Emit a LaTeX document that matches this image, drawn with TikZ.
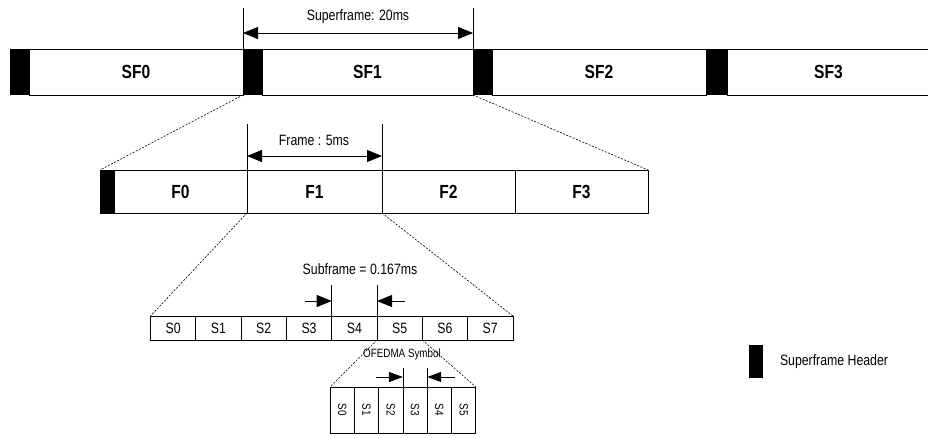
\documentclass[tikz,border=0pt]{standalone}
\usepackage{fontspec}
\setmainfont{Liberation Sans}[FakeStretch=0.82]
\usetikzlibrary{positioning}
\usetikzlibrary{arrows.meta}

\tikzset{
  hdr/.style={fill=black, minimum width=#1},
  sfbox/.style={draw, line width=0.8pt, minimum width=#1, minimum height=46pt,
    font=\bfseries\fontsize{19}{19}\selectfont},
  fbox/.style={draw, line width=0.8pt, minimum width=#1, minimum height=43pt,
    font=\bfseries\fontsize{19}{19}\selectfont},
  sbox/.style={draw, line width=0.8pt, minimum width=45.3pt, minimum height=24pt,
    font=\fontsize{15}{15}\selectfont},
  obox/.style={draw, line width=0.8pt, minimum width=24.3pt, minimum height=46pt,
    font=\fontsize{12}{12}\selectfont},
  lbl/.style={font=\fontsize{15}{15}\selectfont},
  zoomline/.style={line width=0.6pt, dash pattern=on 2pt off 1.5pt},
  tick/.style={line width=0.8pt},
  dim/.style={line width=0.8pt, {Triangle[length=15pt,width=12pt]}-{Triangle[length=15pt,width=12pt]}},
  pin/.style={line width=0.8pt, -{Triangle[length=15pt,width=12pt]}},
  smallpin/.style={line width=0.8pt, -{Triangle[length=14pt,width=10pt]}}
}

\begin{document}
\begin{tikzpicture}[x=1pt, y=-1pt, every node/.style={inner sep=0pt, outer sep=0pt}]
  \useasboundingbox (0,0) rectangle (928,438);

  % superframes
  \node[hdr=19pt, minimum height=46pt, anchor=north west] (h0) at (10,49) {};
  \node[sfbox=214pt, right=0pt of h0] (sf0) {SF0};
  \node[hdr=19pt, minimum height=46pt, right=0pt of sf0] (h1) {};
  \node[sfbox=211pt, right=0pt of h1] (sf1) {SF1};
  \node[hdr=19pt, minimum height=46pt, right=0pt of sf1] (h2) {};
  \node[sfbox=214pt, right=0pt of h2] (sf2) {SF2};
  \node[hdr=21pt, minimum height=46pt, right=0pt of sf2] (h3) {};
  \node[sfbox=203pt, right=0pt of h3] (sf3) {SF3};

  \draw[tick] (h1.north west) -- ++(0,-41);
  \draw[tick] (h2.north west) -- ++(0,-41);
  \draw[dim] ([yshift=16pt]h1.north west) -- ([yshift=16pt]h2.north west);
  \node[lbl] (sfl) at (358,17) {Superframe: 20ms};

  % frames
  \node[hdr=14pt, minimum height=43pt, anchor=north west] (fh) at (100,170) {};
  \node[fbox=133pt, right=0pt of fh] (f0) {F0};
  \node[fbox=135pt, right=0pt of f0] (f1) {F1};
  \node[fbox=133pt, right=0pt of f1] (f2) {F2};
  \node[fbox=133pt, right=0pt of f2] (f3) {F3};
  \draw[line width=0.8pt] (fh.north west) rectangle (fh.south east);

  \draw[zoomline] (h1.south west) -- (fh.north west);
  \draw[zoomline] (h2.south west) -- (f3.north east);

  \draw[tick] (f1.north west) -- ++(0,-46);
  \draw[tick] (f2.north west) -- ++(0,-46);
  \draw[dim] ([yshift=14pt]f1.north west) -- ([yshift=14pt]f2.north west);
  \node[lbl] (fl) at (314,140) {Frame : 5ms};

  % subframes
  \node[sbox, anchor=north west] (s0) at (150.5,316) {S0};
  \foreach \i [count=\j from 0] in {1,...,7}
    \node[sbox, right=0pt of s\j] (s\i) {S\i};

  \draw[zoomline] (f1.south west) -- (s0.north west);
  \draw[zoomline] (f2.south west) -- (s7.north east);

  \draw[tick] (s4.north west) -- ++(0,-31);
  \draw[tick] (s4.north east) -- ++(0,-31);
  \coordinate (sa) at (305,301);
  \coordinate (sb) at (405,301);
  \draw[pin] (sa) -- (s4.north west |- sa);
  \draw[pin] (sb) -- (s4.north east |- sb);
  \node[lbl] (subl) at (360,269) {Subframe = 0.167ms};

  % ofdma symbols
  \node[obox, anchor=north west] (o0) at (330,387) {\rotatebox{-90}{S0}};
  \foreach \i [count=\j from 0] in {1,...,5}
    \node[obox, right=0pt of o\j] (o\i) {\rotatebox{-90}{S\i}};

  \draw[zoomline] (s5.south west) -- (o0.north west);
  \draw[zoomline] (s5.south east) -- (o5.north east);

  \draw[tick] (o3.north west) -- ++(0,-19);
  \draw[tick] (o3.north east) -- ++(0,-19);
  \coordinate (oa) at (376,377);
  \coordinate (ob) at (455,377);
  \draw[smallpin] (oa) -- (o3.north west |- oa);
  \draw[smallpin] (ob) -- (o3.north east |- ob);
  \node[font=\fontsize{12}{12}\selectfont] (ol) at (402,354) {OFEDMA Symbol};

  % legend
  \node[hdr=14pt, minimum height=33pt, anchor=north west] (key) at (749,345) {};
  \node[lbl, right=17pt of key] (keyl) {Superframe Header};
\end{tikzpicture}
\end{document}
